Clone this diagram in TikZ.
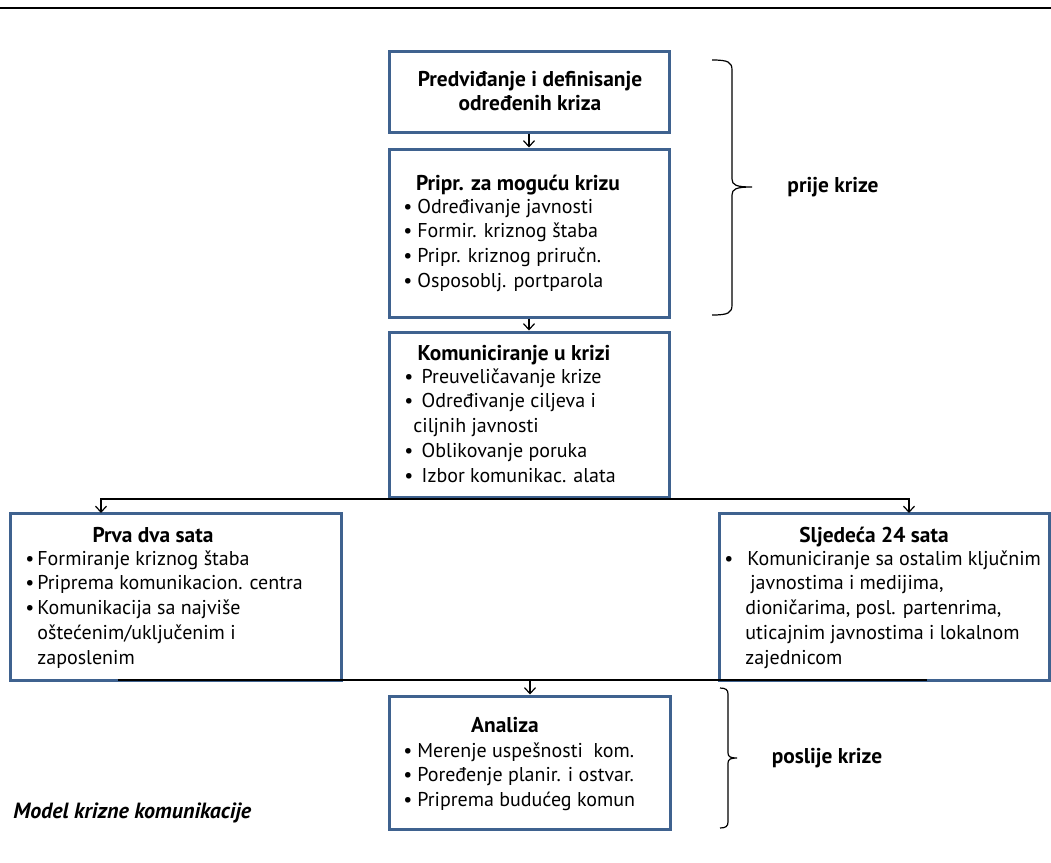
\documentclass[tikz,border=0pt]{standalone}
\usepackage{fontspec}
\setmainfont{PT Sans}
\usetikzlibrary{arrows.meta}
\definecolor{boxblue}{RGB}{63,98,143}
\newcommand{\bl}[1][7pt]{\makebox[#1][l]{\textbullet}}
% a block of left-aligned lines whose baseline is the first line
\newcommand{\linesblock}[1]{\begin{tabular}[t]{@{}l@{}}#1\end{tabular}}
\begin{document}
\begin{tikzpicture}[x=0.5pt,y=-0.5pt,
  box/.style={draw=boxblue,line width=1.5pt,fill=white,inner sep=0pt},
  conn/.style={line width=0.6pt,black},
  arr/.style={conn,-{Straight Barb[length=3pt,width=5.5pt]}},
  txt/.style={inner sep=0pt,anchor=base west,font=\fontsize{10}{12.4}\selectfont},
  ttl/.style={inner sep=0pt,anchor=base,font=\fontsize{10.7}{12}\selectfont\bfseries},
  brace/.style={line width=0.6pt,black}]
\useasboundingbox (0,0) rectangle (1051,863);

% top rule
\draw[line width=1pt] (0,8) -- (1051,8);

% boxes
\node[box,minimum width=140pt,minimum height=40.5pt] (b1) at (529,91.5) {};
\node[box,minimum width=140pt,minimum height=84pt] (b2) at (529,233) {};
\node[box,minimum width=140pt,minimum height=82.5pt] (b3) at (529,414.5) {};
\node[box,minimum width=165.5pt,minimum height=83.5pt] (b4) at (175.5,596.5) {};
\node[box,minimum width=165pt,minimum height=83.5pt] (b5) at (884,596.5) {};
\node[box,minimum width=140.5pt,minimum height=66.5pt] (b6) at (529.5,762.5) {};

% box 1
\node[ttl] (t1) at (530,86) {Predviđanje i definisanje};
\node[ttl] (t1b) at (530,110) {određenih kriza};

% box 2
\node[ttl] (t2) at (518,190) {Pripr. za moguću krizu};
\node[txt] (l2) at (403,213) {\linesblock{\bl Određivanje javnosti\\
\bl Formir. kriznog štaba\\
\bl Pripr. kriznog priručn.\\
\bl Osposoblj. portparola}};

% box 3
\node[ttl] (t3) at (514,360) {Komuniciranje u krizi};
\node[txt] (l3) at (404,383) {\linesblock{\bl[6pt] Preuveličavanje krize\\
\bl[6pt] Određivanje ciljeva i\\
\hspace*{4.5pt}ciljnih javnosti\\
\bl[6pt] Oblikovanje poruka\\
\bl[6pt] Izbor komunikac. alata}};

% box 4
\node[ttl] (t4) at (153,542) {Prva dva sata};
\node[txt] (l4) at (25,565) {\linesblock{\bl[6pt]Formiranje kriznog štaba\\
\bl[6pt]Priprema komunikacion. centra\\
\bl[6pt]Komunikacija sa najviše\\
\hspace*{6pt}oštećenim/uključenim i\\
\hspace*{6pt}zaposlenim}};

% box 5
\node[ttl] (t5) at (874,542) {Sljedeća 24 sata};
\node[txt] (l5) at (724,565) {\linesblock{\bl[11.5pt]Komuniciranje sa ostalim ključnim\\
\hspace*{13pt}javnostima i medijima,\\
\hspace*{10.5pt}dioničarima, posl. partenrima,\\
\hspace*{10.5pt}uticajnim javnostima i lokalnom\\
\hspace*{10.5pt}zajednicom}};

% box 6
\node[ttl] (t6) at (505,732) {Analiza};
\node[txt] (l6) at (403,757) {\linesblock{\bl Merenje uspešnosti\ \ kom.\\
\bl Poređenje planir. i ostvar.\\
\bl Priprema budućeg komun}};

% connectors
\coordinate (split) at (529,499);
\coordinate (b4in) at (101,513);
\coordinate (b5in) at (909,513);
\coordinate (joinL) at (118,680);
\coordinate (joinR) at (927,680);
\coordinate (joinM) at (530,680);
\draw[arr] (b1.south) -- (b2.north);
\draw[arr] (b2.south) -- (b3.north);
\draw[conn] (b3.south) -- (split);
\draw[arr] (split) -| (b4in);
\draw[arr] (split) -| (b5in);
\draw[line width=1pt] (joinL) -- (joinR);
\draw[arr] (joinM) -- (joinM |- b6.north);

% braces and phase labels
\draw[brace] (712,60) .. controls (728,60) and (732,62) .. (732,70) -- (732,179)
  .. controls (732,185) and (736,187) .. (752,187)
  .. controls (736,187) and (732,189) .. (732,195) -- (732,305)
  .. controls (732,313) and (728,315) .. (712,315);
\node[ttl,anchor=center] (p1) at (833,187) {prije krize};

\draw[brace] (720,688) .. controls (726,688) and (728,690) .. (728,694) -- (728,753)
  .. controls (728,757) and (731,758) .. (737,758)
  .. controls (731,758) and (728,759) .. (728,763) -- (728,822)
  .. controls (728,826) and (726,828) .. (720,828);
\node[ttl,anchor=center] (p2) at (827,758) {poslije krize};

% caption
\node[inner sep=0pt,anchor=west,font=\fontsize{11}{12}\selectfont\bfseries\itshape] (cap) at (13,813) {Model krizne komunikacije};
\end{tikzpicture}
\end{document}
